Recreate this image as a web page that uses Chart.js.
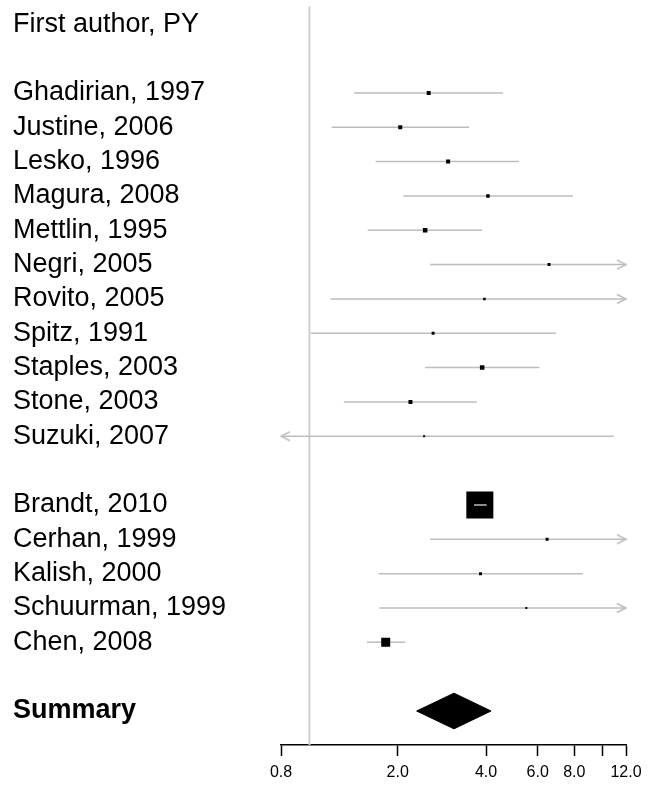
<!DOCTYPE html>
<html>
<head>
<meta charset="utf-8">
<script src="https://cdn.jsdelivr.net/npm/chart.js@4.4.1/dist/chart.umd.min.js"></script>
<style>
  html, body { margin: 0; padding: 0; background: #fff; }
  #wrap { width: 653px; height: 788px; }
</style>
</head>
<body>
<div id="wrap"><canvas id="forest"></canvas></div>
<script>
// rows of the table, top to bottom ('' = blank spacer row)
const rowLabels = [
    'First author, PY', '',
    'Ghadirian, 1997', 'Justine, 2006', 'Lesko, 1996', 'Magura, 2008', 'Mettlin, 1995',
    'Negri, 2005', 'Rovito, 2005', 'Spitz, 1991', 'Staples, 2003', 'Stone, 2003', 'Suzuki, 2007',
    '',
    'Brandt, 2010', 'Cerhan, 1999', 'Kalish, 2000', 'Schuurman, 1999', 'Chen, 2008',
    '',
    'Summary'
];

const studies = [
    'Ghadirian, 1997', 'Justine, 2006', 'Lesko, 1996', 'Magura, 2008', 'Mettlin, 1995',
    'Negri, 2005', 'Rovito, 2005', 'Spitz, 1991', 'Staples, 2003', 'Stone, 2003', 'Suzuki, 2007',
    'Brandt, 2010', 'Cerhan, 1999', 'Kalish, 2000', 'Schuurman, 1999', 'Chen, 2008'
];
const oddsRatio = [2.55, 2.04, 2.97, 4.06, 2.48, 6.56, 3.95, 2.64, 3.88, 2.21, 2.46, 3.81, 6.46, 3.83, 5.49, 1.82];
// values outside 0.8 - 12 are off the axis and shown as arrows
const ciLower   = [1.42, 1.19, 1.68, 2.09, 1.58, 2.58, 1.18, 1.01, 2.48, 1.31, 0.70, 3.64, 2.58, 1.72, 1.73, 1.57];
const ciUpper   = [4.57, 3.50, 5.18, 7.90, 3.88, 15.0, 15.0, 6.93, 6.08, 3.72, 10.9, 4.02, 15.0, 8.56, 15.0, 2.12];
// relative study weight (box area)
const studyWeight = [2.2, 2.2, 2.2, 1.7, 2.8, 1.2, 0.9, 1.2, 2.8, 2.2, 0.55, 100, 1.2, 1.2, 0.55, 11.1];

const summaryOR = 3.11;
const summaryLower = 2.32;
const summaryUpper = 4.16;

const xTicks = [0.8, 2, 4, 6, 8, 10, 12];
const xTickLabels = ['0.8', '2.0', '4.0', '6.0', '8.0', '', '12.0'];
const xMin = 0.8, xMax = 12;

const LINE_GREY = '#bdbdbd';
const FONT = 'Liberation Sans, Arial, sans-serif';

function chevron(dir) {
    const c = document.createElement('canvas');
    c.width = 20; c.height = 12;
    const g = c.getContext('2d');
    g.strokeStyle = LINE_GREY;
    g.lineWidth = 1.5;
    g.beginPath();
    if (dir > 0) {
        g.moveTo(1, 1.5); g.lineTo(10, 6); g.lineTo(1, 10.5);
    } else {
        g.moveTo(19, 1.5); g.lineTo(10, 6); g.lineTo(19, 10.5);
    }
    g.stroke();
    return c;
}
const arrowRight = chevron(1);
const arrowLeft = chevron(-1);

const rowOf = name => rowLabels.indexOf(name);
const summaryRow = rowLabels.indexOf('Summary');
const yMin = -0.52, yMax = 20.99;

const datasets = [];

// reference line at OR = 1
datasets.push({
    data: [{x: 1, y: yMin}, {x: 1, y: yMax}],
    borderColor: '#cfcfcf', borderWidth: 2, pointRadius: 0, order: 5
});

// confidence intervals
const arrowPts = [], arrowStyles = [];
studies.forEach((s, i) => {
    const r = rowOf(s);
    const lo = Math.max(ciLower[i], xMin);
    const hi = Math.min(ciUpper[i], xMax);
    const side = 27 * Math.sqrt(studyWeight[i] / 100);
    const ciLen = (Math.log(hi) - Math.log(lo));
    datasets.push({
        data: [{x: lo, y: r}, {x: hi, y: r}],
        borderColor: LINE_GREY, borderWidth: 1.5, pointRadius: 0,
        // when the box covers the whole interval the line is drawn over it
        order: side > 20 && ciLen < 0.2 ? 1 : 3
    });
    if (ciUpper[i] > xMax) { arrowPts.push({x: xMax, y: r}); arrowStyles.push(arrowRight); }
    if (ciLower[i] < xMin) { arrowPts.push({x: xMin, y: r}); arrowStyles.push(arrowLeft); }
});

datasets.push({
    data: arrowPts, showLine: false, pointStyle: arrowStyles, pointRadius: 4,
    clip: false, order: 3
});

// study boxes
datasets.push({
    data: studies.map((s, i) => ({x: oddsRatio[i], y: rowOf(s)})),
    showLine: false,
    pointStyle: 'rect',
    pointRadius: studyWeight.map(w => 27 * Math.sqrt(w / 100) / Math.SQRT2),
    pointBackgroundColor: '#000', pointBorderWidth: 0,
    order: 2
});

// summary diamond
const dh = 0.52;
datasets.push({
    data: [
        {x: summaryLower, y: summaryRow},
        {x: summaryOR, y: summaryRow - dh},
        {x: summaryUpper, y: summaryRow},
        {x: summaryOR, y: summaryRow + dh},
        {x: summaryLower, y: summaryRow}
    ],
    borderColor: '#000', borderWidth: 1, backgroundColor: '#000',
    fill: 'shape', pointRadius: 0, tension: 0, order: 2
});

new Chart(document.getElementById('forest'), {
    type: 'line',
    data: { datasets: datasets },
    options: {
        responsive: true,
        maintainAspectRatio: false,
        animation: false,
        events: [],
        layout: { padding: { left: 13, right: 27, top: 3, bottom: 0 } },
        plugins: { legend: { display: false }, tooltip: { enabled: false } },
        scales: {
            x: {
                type: 'logarithmic',
                min: xMin,
                max: xMax,
                afterBuildTicks: axis => { axis.ticks = xTicks.map(v => ({ value: v })); },
                afterFit: axis => { axis.height = 43; },
                ticks: {
                    callback: (v, i) => xTickLabels[i],
                    color: '#000',
                    font: { family: FONT, size: 16 },
                    padding: 7,
                    maxRotation: 0,
                    autoSkip: false
                },
                grid: {
                    display: true, drawOnChartArea: false, drawTicks: true,
                    tickLength: 11, tickColor: '#000', tickWidth: 1.5
                },
                border: { display: true, color: '#000', width: 1.5 }
            },
            y: {
                type: 'linear',
                reverse: true,
                min: yMin,
                max: yMax,
                afterBuildTicks: axis => { axis.ticks = rowLabels.map((_, i) => ({ value: i })); },
                afterFit: axis => {
                    axis.width = 268;
                    axis.paddingTop = 0;
                    axis.paddingBottom = 0;
                },
                ticks: {
                    callback: (v, i) => rowLabels[i],
                    color: '#000',
                    crossAlign: 'far',
                    autoSkip: false,
                    font: ctx => ({
                        family: FONT, size: 27,
                        weight: ctx.index === summaryRow ? 'bold' : 'normal'
                    })
                },
                grid: { display: false },
                border: { display: false }
            }
        }
    }
});
</script>
</body>
</html>
